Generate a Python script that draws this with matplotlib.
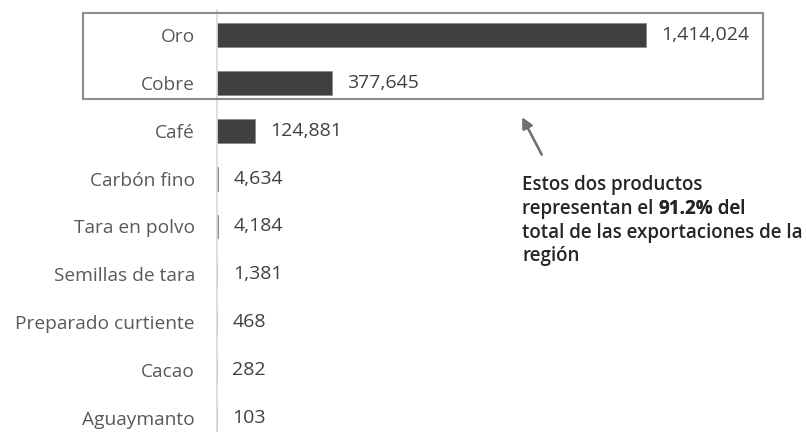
import matplotlib.pyplot as plt
from matplotlib.patches import Rectangle

# exportaciones por producto
productos = ['Oro', 'Cobre', 'Café', 'Carbón fino', 'Tara en polvo',
             'Semillas de tara', 'Preparado curtiente', 'Cacao', 'Aguaymanto']
valores = [1414024, 377645, 124881, 4634, 4184, 1381, 468, 282, 103]

W, H = 806, 432
fig = plt.figure(figsize=(W / 100, H / 100), dpi=100)
plt.rcParams['font.family'] = ['Open Sans', 'DejaVu Sans']

# axes placed in pixel terms
x0 = 217
ax = fig.add_axes([x0 / W, 0, (W - x0) / W, (H - 10) / H])
scale = 429 / valores[0]          # px per unit
ax.set_xlim(0, (W - x0) / scale)
ax.set_ylim(8 + 14 / 48, -25 / 48)

y = list(range(len(productos)))
ax.barh(y, valores, height=0.5, color='#404040', edgecolor='#8a8a8a', linewidth=0.6)

for yi, v in zip(y, valores):
    ax.annotate(f'{v:,}', xy=(v, yi), xytext=(11, 0), textcoords='offset points',
                va='center', ha='left', fontsize=14, color='#404040')

ax.set_yticks(y)
ax.set_yticklabels(productos, fontsize=13.8, color='#595959')
ax.tick_params(axis='y', length=0, pad=16)
ax.set_xticks([])
for s in ['top', 'right', 'bottom']:
    ax.spines[s].set_visible(False)
ax.spines['left'].set_color('#d9d9d9')
ax.spines['left'].set_linewidth(1.2)

# box around Oro and Cobre (figure pixels)
fig.add_artist(Rectangle((83 / W, 1 - 99 / H), (763 - 83) / W, (99 - 13) / H,
                         transform=fig.transFigure, fill=False,
                         edgecolor='#8c8c8c', linewidth=1.5))

# arrow
fig.add_artist(plt.annotate('', xy=(521 / W, 1 - 115 / H), xytext=(543 / W, 1 - 157 / H),
                            xycoords='figure fraction', textcoords='figure fraction',
                            arrowprops=dict(arrowstyle='-|>', color='#707070', lw=1.6,
                                            mutation_scale=16)))

tcol = '#262626'
fs = 13.5
fig.text(522 / W, 1 - 185 / H, 'Estos dos productos', fontsize=fs, color=tcol,
         va='center', fontweight='semibold')
t1 = fig.text(522 / W, 1 - 209 / H, 'representan el ', fontsize=fs, color=tcol,
              va='center', fontweight='semibold')
t2 = fig.add_artist(plt.annotate('91.2%', xy=(1, 0), xycoords=t1, va='bottom', ha='left',
                                 fontsize=fs, color=tcol, fontweight='bold'))
fig.add_artist(plt.annotate(' del', xy=(1, 0), xycoords=t2, va='bottom', ha='left',
                            fontsize=fs, color=tcol, fontweight='semibold'))
fig.text(522 / W, 1 - 233 / H, 'total de las exportaciones de la', fontsize=fs, color=tcol,
         va='center', fontweight='semibold')
fig.text(522 / W, 1 - 256 / H, 'región', fontsize=fs, color=tcol,
         va='center', fontweight='semibold')

fig.savefig('out.png', dpi=100)
